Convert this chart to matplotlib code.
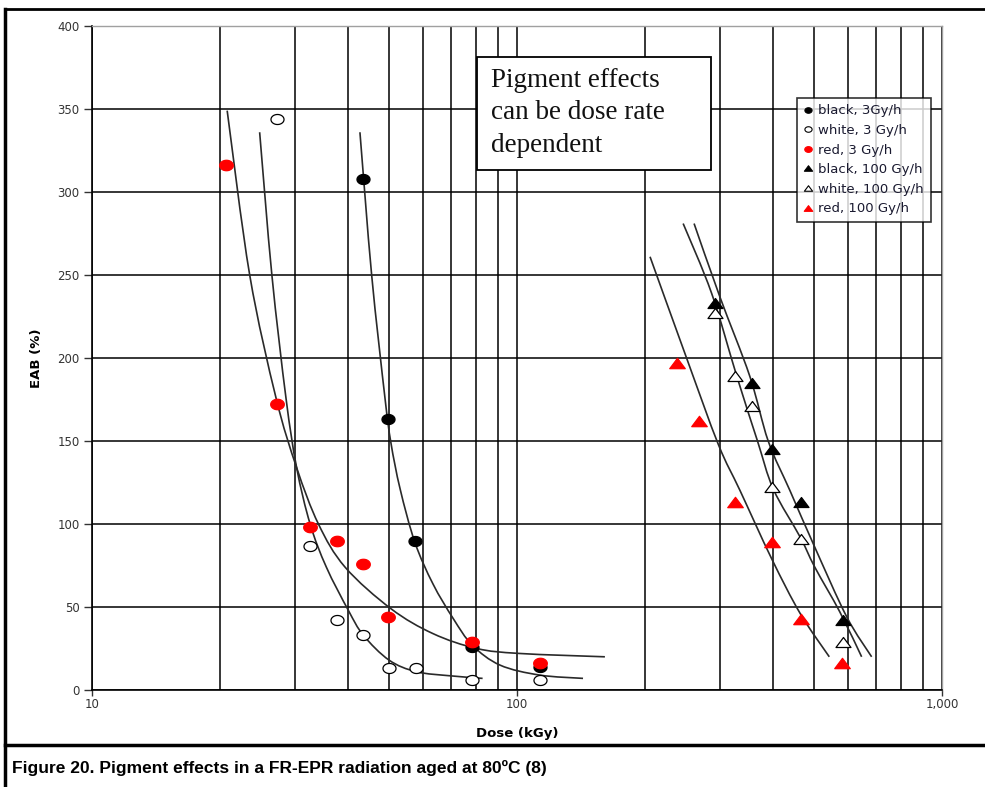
import numpy as np
import matplotlib
matplotlib.use("Agg")
import matplotlib.pyplot as plt
from matplotlib.path import Path
from matplotlib.patches import Rectangle, PathPatch
from matplotlib.lines import Line2D
from matplotlib.ticker import FixedLocator, FixedFormatter, LogLocator, NullFormatter

plt.rcParams["font.family"] = ["DejaVu Sans"]

# ---- measured points (dose kGy, EAB %)
BLK3_X = [43.4, 49.7, 57.5, 78.3, 113]
BLK3_Y = [308, 163, 90, 26, 14]
WHT3_X = [27.2, 32.6, 37.8, 43.5, 50, 57.9, 78.5, 113]
WHT3_Y = [344, 87, 42, 33, 13, 13, 6, 6]
RED3_X = [20.7, 27.3, 32.6, 37.8, 43.5, 49.8, 78.5, 113]
RED3_Y = [316, 172, 98, 90, 76, 44, 29, 16]
BLK100_X = [292, 357, 398, 465, 586]
BLK100_Y = [233, 185, 145, 113, 42]
WHT100_X = [292, 325, 357, 398, 465, 584]
WHT100_Y = [227, 189, 171, 122, 91, 29]
RED100_X = [238, 268, 325, 398, 465, 583]
RED100_Y = [197, 162, 113, 89, 43, 16]

# ---- trend curves, traced (drawn as smoothed lines)
FIT_RED3_X = [20.8, 23.5, 27.1, 30.3, 34.1, 39.4, 50.5, 63.4, 80.4, 101.6, 161]
FIT_RED3_Y = [349, 250, 176, 134, 100, 74, 49, 34, 25, 22, 20]
FIT_WHT3_X = [24.8, 26.5, 28.6, 30.3, 32.6, 35.6, 40.1, 43.5, 50, 58, 70, 83]
FIT_WHT3_Y = [336, 250, 176, 134, 100, 74, 48, 33, 18, 11, 8.5, 7]
FIT_BLK3_X = [42.7, 45.5, 48.9, 50.5, 53.1, 57.5, 63.4, 70.8, 78.5, 91.2, 113, 143]
FIT_BLK3_Y = [336, 250, 176, 149, 121, 89, 64, 43, 27, 15, 9, 7]
FIT_RED100_X = [205.6, 250.6, 297.6, 335, 397.5, 464, 543]
FIT_RED100_Y = [261, 200, 148, 120, 79, 46, 20]
FIT_WHT100_X = [246, 287, 329, 368, 401, 464, 502, 575, 647]
FIT_WHT100_Y = [281, 239, 189, 150, 121, 92, 74, 47, 20]
FIT_BLK100_X = [261, 300, 353, 390, 439, 502, 597, 683]
FIT_BLK100_Y = [281, 237, 189, 150, 120, 86, 44, 20]

X_TICKS = [10, 100, 1000]
X_TICK_LABELS = ["10", "100", "1,000"]
Y_TICKS = list(range(0, 401, 50))

# slightly wide markers
t = np.linspace(0, 2 * np.pi, 41)
OVAL = Path(np.column_stack([1.3 * np.cos(t), np.sin(t)]), closed=True)
TRI = Path([(-1.2, -0.8), (1.2, -0.8), (0, 0.8), (-1.2, -0.8)], closed=True)


def smoothed(xs, ys, k=1 / 6):
    """Bezier path through the points (Catmull-Rom tangents, log-x space)."""
    P = np.column_stack([np.log10(xs), np.asarray(ys, float)])
    verts, codes = [P[0]], [Path.MOVETO]
    n = len(P)
    for i in range(n - 1):
        p0, p1 = P[max(i - 1, 0)], P[i]
        p2, p3 = P[i + 1], P[min(i + 2, n - 1)]
        verts += [p1 + (p2 - p0) * k, p2 - (p3 - p1) * k, p2]
        codes += [Path.CURVE4] * 3
    V = np.array(verts)
    V[:, 0] = 10 ** V[:, 0]
    return Path(V, codes)


W, H = 985, 787
fig = plt.figure(figsize=(W / 100, H / 100), dpi=100)
ax = fig.add_axes([92 / W, 97 / H, 850 / W, 664 / H])

ax.set_xscale("log")
ax.set_xlim(10, 1000)
ax.set_ylim(0, 400)

ax.xaxis.set_major_locator(FixedLocator(X_TICKS))
ax.xaxis.set_major_formatter(FixedFormatter(X_TICK_LABELS))
ax.xaxis.set_minor_locator(LogLocator(base=10, subs=np.arange(2, 10)))
ax.xaxis.set_minor_formatter(NullFormatter())
ax.set_yticks(Y_TICKS)

ax.grid(True, which="both", axis="x", color="black", lw=1.1, zorder=0)
ax.grid(True, which="major", axis="y", color="black", lw=1.1, zorder=0)
ax.set_axisbelow(True)

ax.tick_params(axis="both", which="major", direction="out", width=1,
               labelsize=8.5, labelcolor="#333333", color="#333333")
ax.tick_params(axis="x", which="minor", length=0)
ax.tick_params(axis="x", which="major", length=4, pad=2)
ax.tick_params(axis="y", length=6, pad=3)
for s in ("top", "right"):
    ax.spines[s].set_color("#a0a0a0")
    ax.spines[s].set_linewidth(1.0)
for s in ("left", "bottom"):
    ax.spines[s].set_color("black")
    ax.spines[s].set_linewidth(1.2)

ax.set_xlabel("Dose (kGy)", fontsize=9.5, fontweight="bold", labelpad=11)
ax.set_ylabel("EAB (%)", fontsize=9.5, fontweight="bold", labelpad=10)

# trend curves
for fx, fy in ((FIT_RED3_X, FIT_RED3_Y), (FIT_WHT3_X, FIT_WHT3_Y),
               (FIT_BLK3_X, FIT_BLK3_Y), (FIT_RED100_X, FIT_RED100_Y),
               (FIT_WHT100_X, FIT_WHT100_Y), (FIT_BLK100_X, FIT_BLK100_Y)):
    ax.add_patch(PathPatch(smoothed(fx, fy), fill=False, edgecolor="#2a2a2a",
                           lw=1.2, zorder=2))

series = [
    (BLK3_X, BLK3_Y, OVAL, "black", "black", 9.4, "black, 3Gy/h"),
    (WHT3_X, WHT3_Y, OVAL, "white", "black", 9.4, "white, 3 Gy/h"),
    (RED3_X, RED3_Y, OVAL, "red", "red", 9.8, "red, 3 Gy/h"),
    (BLK100_X, BLK100_Y, TRI, "black", "black", 10.8, "black, 100 Gy/h"),
    (WHT100_X, WHT100_Y, TRI, "white", "black", 10.8, "white, 100 Gy/h"),
    (RED100_X, RED100_Y, TRI, "red", "red", 11.2, "red, 100 Gy/h"),
]
handles = []
for xs, ys, mk, fc, ec, ms, lab in series:
    ax.plot(xs, ys, ls="none", marker=mk, ms=ms, mfc=fc, mec=ec, mew=0.9, zorder=3)
    handles.append(Line2D([], [], ls="none", marker=mk, ms=ms * 0.55, mfc=fc,
                          mec=ec, mew=0.8, label=lab))

leg = ax.legend(handles=handles, loc="upper left", bbox_to_anchor=(0.829, 0.892),
                borderaxespad=0, fontsize=9.5, frameon=True, fancybox=False,
                handlelength=0.7, handletextpad=0.45, labelspacing=0.5,
                borderpad=0.5, labelcolor="#1a1a30")
leg.get_frame().set_edgecolor("black")
leg.get_frame().set_linewidth(1.2)
leg.set_zorder(5)

# note box
ax.add_patch(Rectangle((0.453, 0.783), 0.275, 0.170, transform=ax.transAxes,
                       facecolor="white", edgecolor="black", lw=1.3, zorder=4))
ax.text(0.469, 0.937, "Pigment effects\ncan be dose rate\ndependent",
        transform=ax.transAxes, ha="left", va="top", fontsize=19.5,
        family=["Liberation Serif", "DejaVu Serif"], linespacing=1.4,
        color="#111111", zorder=5)

# page frame and caption rule
frame = dict(transform=fig.transFigure, color="black", clip_on=False)
fig.add_artist(Line2D([5 / W, 5 / W], [1 - 9 / H, 0], lw=2.5, **frame))
fig.add_artist(Line2D([5 / W, 1], [1 - 9 / H, 1 - 9 / H], lw=2, **frame))
fig.add_artist(Line2D([5 / W, 1], [1 - 745 / H, 1 - 745 / H], lw=2.5, **frame))
fig.text(12 / W, 1 - 768 / H,
         "Figure 20. Pigment effects in a FR-EPR radiation aged at 80ºC (8)",
         ha="left", va="center", fontsize=12.5, fontweight="bold",
         family=["Liberation Sans", "DejaVu Sans"])

fig.savefig("out.png", dpi=100)
